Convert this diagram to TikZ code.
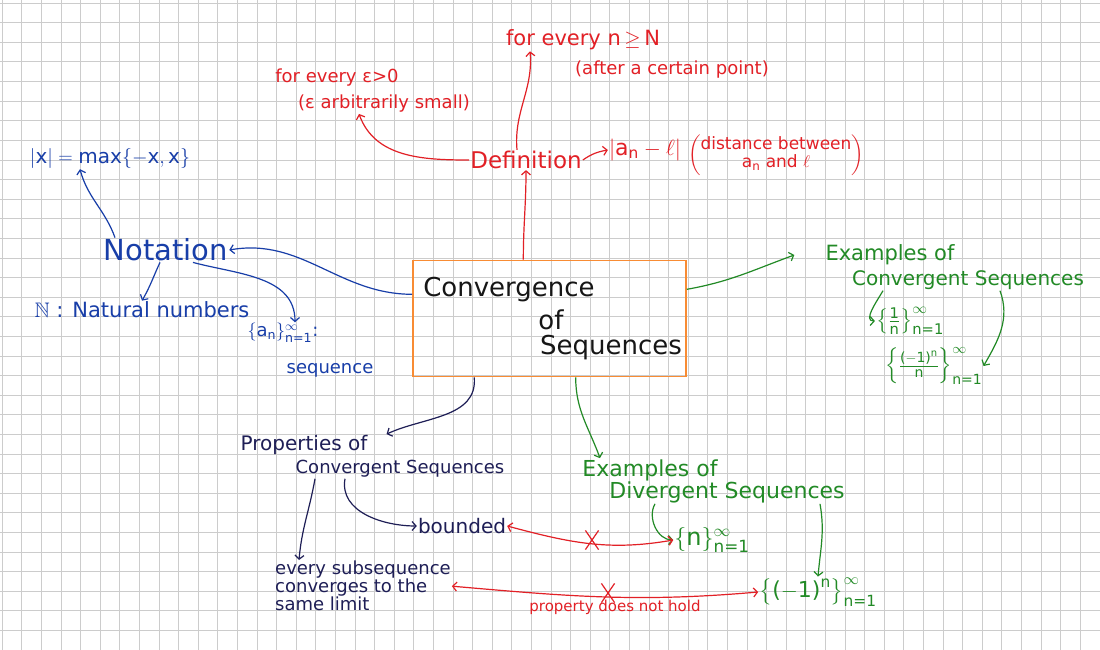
\documentclass[tikz,border=0pt]{standalone}
\usepackage{fix-cm}
\usepackage{amsmath}
\usepackage{amssymb}
\usepackage{fontspec}
\setmainfont{DejaVu Sans}
\usetikzlibrary{arrows.meta}
\usetikzlibrary{shapes.misc}

\definecolor{penRed}{RGB}{226,32,38}
\definecolor{penBlue}{RGB}{24,62,168}
\definecolor{penGreen}{RGB}{34,138,38}
\definecolor{penNavy}{RGB}{30,30,86}
\definecolor{penOrange}{RGB}{248,140,52}
\definecolor{penBlack}{RGB}{22,22,22}
\definecolor{gridGray}{RGB}{204,204,204}
\newcommand\penFont[1]{\fontsize{#1}{#1}\selectfont}

\begin{document}
\begin{tikzpicture}
[x=1pt,y=1pt,
  gridDecorate/.style={draw=gridGray,line width=0.6pt},
  boxDecorate/.style={draw=penOrange,line width=1.6pt,minimum width=273pt,minimum height=116pt},
  lineRed/.style={draw=penRed,line width=1.2pt,-{Straight Barb[length=4pt,width=9pt]}},
  lineBlue/.style={lineRed,draw=penBlue},
  lineGreen/.style={lineRed,draw=penGreen},
  lineNavy/.style={lineRed,draw=penNavy},
  bothRed/.style={lineRed,{Straight Barb[length=4pt,width=9pt]}-{Straight Barb[length=4pt,width=9pt]}},
  crossRed/.style={cross out,draw=penRed,line width=1.2pt,minimum width=12pt,minimum height=18pt,inner sep=0pt},
  textRed/.style={text=penRed,inner sep=1pt},
  textBlue/.style={text=penBlue,inner sep=1pt},
  textGreen/.style={text=penGreen,inner sep=1pt},
  textNavy/.style={text=penNavy,inner sep=1pt},
  textBlack/.style={text=penBlack,inner sep=1pt}]
%% paper
\fill[white] (0,0) rectangle (1100,-650);
\useasboundingbox (0,0) rectangle (1100,-650);
\foreach \x in {0,...,55}
  \draw[gridDecorate] ({2+19.6*\x},0) -- ++(0,-650);
\foreach \y in {0,...,33}
  \draw[gridDecorate] (0,{-3-19.6*\y}) -- ++(1100,0);
%% centre
\node (Convergence) at (549.5,-318.5) [boxDecorate] {};
\node (ConvA) at (509,-290) [textBlack,font=\penFont{26}] {Convergence};
\node (ConvB) at (551,-320) [textBlack,font=\penFont{26}] {of};
\node (ConvC) at (611,-348) [textBlack,font=\penFont{26}] {Sequences};
%% definition
\node (Definition) at (526,-160) [textRed,font=\penFont{23}] {Definition};
\node (EpsA) at (337,-78) [textRed,font=\penFont{18}] {for every ε>0};
\node (EpsB) at (384,-104) [textRed,font=\penFont{18}] {(ε arbitrarily small)};
\node (NA) at (583,-40) [textRed,font=\penFont{21}] {for every n$\,\geq\,$N};
\node (NB) at (672,-70) [textRed,font=\penFont{18}] {(after a certain point)};
\node (Distance) at (645,-150) [textRed,font=\penFont{22}] {$|\text{a}_\text{n}-\ell|$};
\node (DistNote) at (776,-155) [textRed,font=\penFont{17}]
  {$\left(\mbox{\begin{tabular}{@{}c@{}}distance between\\ $\text{a}_\text{n}$ and $\ell$\end{tabular}}\right)$};
%% notation
\node (Notation) at (166,-250) [textBlue,font=\penFont{29}] {Notation};
\node (AbsVal) at (110,-158) [textBlue,font=\penFont{20}] {$|\text{x}| = \text{max}\{-\text{x},\text{x}\}$};
\node (Naturals) at (142,-310) [textBlue,font=\penFont{21}] {$\mathbb{N}$ : Natural numbers};
\node (SeqA) at (283,-333) [textBlue,font=\penFont{18}] {$\{\text{a}_\text{n}\}_{\text{n=1}}^{\infty}$:};
\node (SeqB) at (330,-370) [textBlue,font=\penFont{18}] {sequence};
%% convergent examples
\node (ConvExA) at (890,-255) [textGreen,font=\penFont{21}] {Examples of};
\node (ConvExB) at (968,-280) [textGreen,font=\penFont{20}] {Convergent Sequences};
\node (OneOverN) at (910,-321) [textGreen,font=\penFont{21}] {$\left\{\frac{\text{1}}{\text{n}}\right\}_{\text{n=1}}^{\infty}$};
\node (AltOverN) at (934,-366) [textGreen,font=\penFont{20}] {$\left\{\frac{\text{(}{-}\text{1)}^\text{n}}{\text{n}}\right\}_{\text{n=1}}^{\infty}$};
%% properties
\node (PropsA) at (304,-445) [textNavy,font=\penFont{20}] {Properties of};
\node (PropsB) at (400,-469) [textNavy,font=\penFont{18}] {Convergent Sequences};
\node (Bounded) at (462,-526) [textNavy,font=\penFont{20}] {bounded};
\node (Subseq) at (274,-560) [textNavy,font=\penFont{18},anchor=north west,align=left]
  {every subsequence\\converges to the\\same limit};
%% divergent examples
\node (DivExA) at (650,-470) [textGreen,font=\penFont{22}] {Examples of};
\node (DivExB) at (727,-492) [textGreen,font=\penFont{22}] {Divergent Sequences};
\node (NSeq) at (712,-540) [textGreen,font=\penFont{24}] {$\{\text{n}\}_{\text{n=1}}^{\infty}$};
\node (AltSeq) at (818,-592) [textGreen,font=\penFont{22}] {$\left\{\text{(}{-}\text{1)}^{\text{n}}\right\}_{\text{n=1}}^{\infty}$};
\node (CrossA) at (592,-540) [crossRed] {};
\node (CrossB) at (608,-593) [crossRed] {};
\node (NotHold) at (615,-607) [textRed,font=\penFont{15}] {property does not hold};
%% arrow ends
\coordinate (EpsTip) at ([xshift=-25pt]EpsB.south);
\coordinate (DefTop) at ([xshift=-9pt]Definition.north);
\coordinate (NTip) at ([xshift=-53pt]NA.south);
\coordinate (NotTop) at ([xshift=-51pt]Notation.north);
\coordinate (AbsTip) at ([xshift=-30pt]AbsVal.south);
\coordinate (NotLow) at ([xshift=-6pt]Notation.south);
\coordinate (NotRight) at ([xshift=27pt]Notation.south);
\coordinate (SeqTip) at ([xshift=12pt]SeqA.north);
\coordinate (ConvExTip) at ([xshift=-30pt]ConvExA.west);
\coordinate (ConvHook) at ([xshift=-85pt]ConvExB.south);
\coordinate (ConvBend) at ([xshift=32pt]ConvExB.south);
\coordinate (DivExTip) at ([xshift=-50pt]DivExA.north);
\coordinate (DivHook) at ([xshift=-72pt]DivExB.south);
\coordinate (DivBend) at ([xshift=93pt]DivExB.south);
\coordinate (PropsTip) at ([xshift=18pt]PropsA.north east);
\coordinate (PropsLeft) at ([xshift=-85pt]PropsB.south);
\coordinate (PropsRight) at ([xshift=-55pt]PropsB.south);
\coordinate (SubseqTip) at ([xshift=25pt]Subseq.north west);
%% connectors
\path
\foreach \startnode/\endnode/\outangle/\inangle/\linestyle in {
  Convergence.114/Definition.south/90/270/lineRed,
  Definition.west/EpsTip/180/-70/lineRed,
  DefTop/NTip/95/-85/lineRed,
  Definition.east/Distance.west/35/190/lineRed,
  Convergence.170/Notation.east/180/10/lineBlue,
  NotTop/AbsTip/110/-75/lineBlue,
  NotLow/Naturals.north/-115/60/lineBlue,
  NotRight/SeqTip/-15/90/lineBlue,
  Convergence.12/ConvExTip/10/200/lineGreen,
  ConvHook/OneOverN.west/-120/180/lineGreen,
  ConvBend/AltOverN.east/-70/60/lineGreen,
  Convergence.294/DivExTip/-90/110/lineGreen,
  DivHook/NSeq.west/-120/180/lineGreen,
  DivBend/AltSeq.north/-80/85/lineGreen,
  Convergence.218/PropsTip/-85/25/lineNavy,
  PropsLeft/SubseqTip/-100/85/lineNavy,
  PropsRight/Bounded.west/-100/180/lineNavy,
  Bounded.east/NSeq.west/-15/190/bothRed,
  Subseq.east/AltSeq.west/-5/185/bothRed}
{
  (\startnode) edge[\linestyle,out=\outangle,in=\inangle] (\endnode)
};
\end{tikzpicture}
\end{document}
